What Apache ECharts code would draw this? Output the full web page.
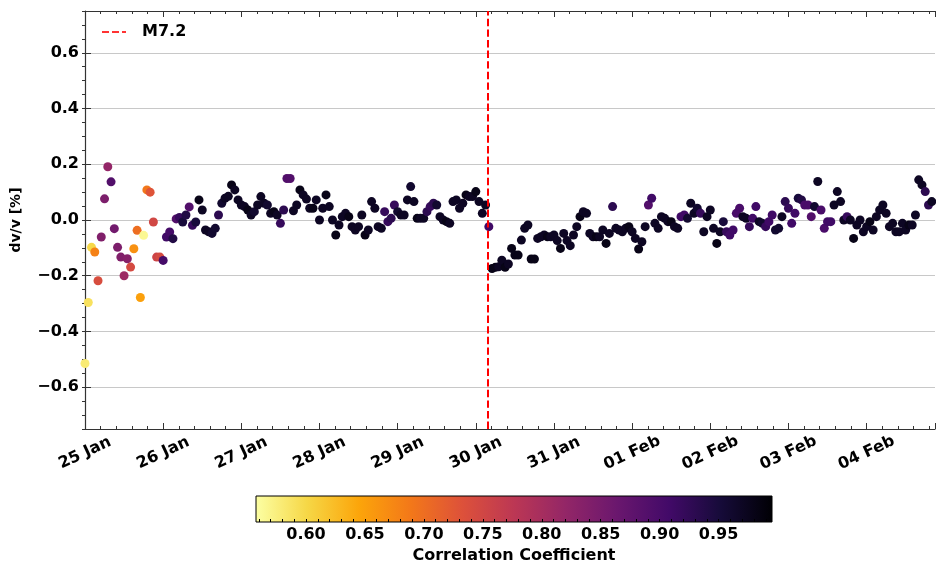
<!DOCTYPE html>
<html><head><meta charset="utf-8">
<script src="https://cdn.jsdelivr.net/npm/echarts@6/dist/echarts.min.js"></script>
<style>html,body{margin:0;padding:0;background:#fff}#c{width:936px;height:564px}</style>
</head><body><div id="c"></div>
<script>
// x tick labels (one per day, starting 25 Jan 00:00)
const dayLabels = ['25 Jan','26 Jan','27 Jan','28 Jan','29 Jan','30 Jan','31 Jan','01 Feb','02 Feb','03 Feb','04 Feb'];
const sampleStepHours = 1;      // hourly dv/v estimates
const xMaxDays = 10.875;
const quakeDay = 5.154;         // M7.2 origin time (days after 25 Jan 00:00)
const quakeName = 'M7.2';

// dv/v [%] per hourly sample
const dvv = [
 -0.515,-0.296,-0.098,-0.115,-0.218,-0.061,0.076,0.191,0.137,-0.031,
 -0.098,-0.133,-0.200,-0.139,-0.169,-0.103,-0.037,-0.278,-0.055,0.108,
 0.100,-0.007,-0.133,-0.133,-0.145,-0.061,-0.043,-0.067,0.004,0.009,
 -0.007,0.018,0.047,-0.019,-0.007,0.072,0.036,-0.036,-0.042,-0.048,
 -0.030,0.018,0.060,0.078,0.085,0.126,0.108,0.072,0.054,0.048,
 0.036,0.018,0.030,0.054,0.084,0.060,0.054,0.024,0.030,0.018,
 -0.012,0.036,0.149,0.149,0.033,0.054,0.108,0.090,0.075,0.042,
 0.042,0.072,0.000,0.042,0.090,0.048,0.000,-0.054,-0.018,0.012,
 0.024,0.012,-0.024,-0.036,-0.024,0.018,-0.054,-0.036,0.066,0.042,
 -0.024,-0.030,0.030,-0.006,0.006,0.054,0.030,0.018,0.018,0.072,
 0.120,0.066,0.006,0.006,0.006,0.030,0.048,0.060,0.054,0.012,
 0.000,-0.006,-0.012,0.066,0.072,0.042,0.060,0.090,0.084,0.084,
 0.102,0.066,0.024,0.054,-0.024,-0.174,-0.170,-0.168,-0.144,-0.170,
 -0.158,-0.102,-0.126,-0.126,-0.072,-0.030,-0.018,-0.140,-0.140,-0.066,
 -0.060,-0.054,-0.060,-0.060,-0.054,-0.074,-0.102,-0.048,-0.074,-0.092,
 -0.054,-0.024,0.012,0.030,0.024,-0.048,-0.060,-0.060,-0.060,-0.036,
 -0.084,-0.048,0.048,-0.030,-0.036,-0.042,-0.030,-0.024,-0.042,-0.066,
 -0.104,-0.078,-0.024,0.054,0.078,-0.012,-0.030,0.012,0.006,-0.006,
 -0.006,-0.024,-0.030,0.012,0.018,0.006,0.060,0.024,0.042,0.024,
 -0.042,0.012,0.036,-0.030,-0.084,-0.042,-0.006,-0.042,-0.054,-0.036,
 0.024,0.042,0.012,0.006,-0.024,0.006,0.048,-0.006,-0.012,-0.024,
 -0.006,0.018,-0.036,-0.030,0.012,0.066,0.042,-0.012,0.024,0.078,
 0.072,0.054,0.054,0.012,0.048,0.138,0.036,-0.030,-0.006,-0.006,
 0.054,0.102,0.066,0.000,0.012,0.000,-0.066,-0.018,0.000,-0.042,
 -0.024,-0.006,-0.036,0.012,0.036,0.054,0.024,-0.024,-0.012,-0.042,
 -0.042,-0.012,-0.036,-0.018,-0.018,0.018,0.144,0.126,0.102,0.054,
 0.066
];

// correlation coefficient per hourly sample
const corr = [
 0.58,0.59,0.60,0.68,0.74,0.84,0.845,0.82,0.89,0.855,
 0.845,0.84,0.81,0.835,0.745,0.665,0.70,0.65,0.565,0.69,
 0.73,0.75,0.755,0.745,0.905,0.91,0.905,0.94,0.89,0.92,
 0.95,0.94,0.89,0.92,0.95,0.98,0.97,0.97,0.97,0.96,
 0.96,0.93,0.96,0.97,0.97,0.98,0.97,0.97,0.97,0.97,
 0.98,0.97,0.96,0.97,0.97,0.97,0.96,0.97,0.98,0.97,
 0.92,0.93,0.89,0.89,0.97,0.97,0.98,0.97,0.97,0.97,
 0.98,0.97,0.97,0.97,0.98,0.97,0.97,0.98,0.97,0.97,
 0.97,0.98,0.97,0.97,0.97,0.97,0.98,0.97,0.97,0.97,
 0.97,0.97,0.92,0.92,0.93,0.92,0.96,0.97,0.97,0.97,
 0.96,0.97,0.98,0.97,0.97,0.93,0.92,0.93,0.96,0.97,
 0.97,0.98,0.97,0.97,0.97,0.97,0.97,0.98,0.97,0.97,
 0.98,0.97,0.97,0.97,0.91,0.98,0.98,0.97,0.97,0.98,
 0.97,0.98,0.98,0.98,0.97,0.97,0.97,0.98,0.98,0.97,
 0.97,0.97,0.98,0.97,0.97,0.97,0.98,0.97,0.97,0.97,
 0.97,0.97,0.98,0.97,0.97,0.97,0.97,0.98,0.97,0.97,
 0.98,0.97,0.93,0.97,0.97,0.97,0.97,0.98,0.97,0.97,
 0.98,0.97,0.97,0.89,0.91,0.97,0.97,0.97,0.97,0.97,
 0.98,0.97,0.97,0.91,0.91,0.96,0.97,0.97,0.96,0.92,
 0.97,0.97,0.97,0.97,0.98,0.97,0.95,0.92,0.91,0.91,
 0.90,0.90,0.97,0.97,0.92,0.91,0.91,0.97,0.96,0.92,
 0.91,0.91,0.96,0.96,0.97,0.93,0.92,0.91,0.91,0.95,
 0.94,0.90,0.90,0.89,0.96,0.97,0.90,0.90,0.91,0.91,
 0.97,0.97,0.97,0.97,0.92,0.97,0.98,0.97,0.97,0.97,
 0.97,0.98,0.97,0.97,0.97,0.97,0.97,0.97,0.97,0.97,
 0.97,0.97,0.97,0.98,0.97,0.97,0.97,0.97,0.93,0.93,
 0.97
];

const yTickValues = [-0.6,-0.4,-0.2,0,0.2,0.4,0.6];
const cbLabelValues = [0.60,0.65,0.70,0.75,0.80,0.85,0.90,0.95];
const cbMinorValues = [0.56,0.57,0.58,0.59,0.60,0.61,0.62,0.63,0.64,0.65,0.66,0.67,0.68,0.69,0.70,0.71,0.72,0.73,0.74,0.75,0.76,0.77,0.78,0.79,0.80,0.81,0.82,0.83,0.84,0.85,0.86,0.87,0.88,0.89,0.90,0.91,0.92,0.93,0.94,0.95,0.96,0.97,0.98,0.99];
const corrMin = 0.5576, corrMax = 0.9953;
// matplotlib "inferno" colormap stops (dark -> light)
const inferno = ['#000004','#160b39','#420a68','#6a176e','#932667','#bc3754','#dd513a','#f37819','#fca50a','#f6d746','#fcffa4'];
const infernoR = inferno.slice().reverse();

const FONT = 'DejaVu Sans';
const axisCol = '#333';
// dashed-line legend glyph ("--")
const dashIcon = 'path://M0,0H7V2H0Z M10,0H17V2H10Z M20,0H24V2H20Z';

const points = dvv.map((v, i) => [i * sampleStepHours / 24, v, corr[i]]);

const chart = echarts.init(document.getElementById('c'), null, {renderer: 'canvas'});
const fmtY = v => (v < 0 ? '\u2212' : '') + Math.abs(v).toFixed(1);

chart.setOption({
  animation: false,
  backgroundColor: '#fff',
  textStyle: {fontFamily: FONT},
  legend: {
    data: [{name: quakeName, icon: dashIcon}],
    left: 102, top: 24,
    itemWidth: 24, itemHeight: 2, padding: 0, symbolKeepAspect: false,
    itemStyle: {color: '#ff0000'},
    textStyle: {fontFamily: FONT, fontSize: 16, fontWeight: 'bold', color: '#000', padding: [0, 0, 0, 11]}
  },
  grid: [
    {left: 85, right: 1, top: 11, bottom: 135, outerBoundsMode: 'none'},
    {left: 256, width: 516, top: 496, height: 26, outerBoundsMode: 'none', show: true,
     borderColor: '#000', borderWidth: 1,
     backgroundColor: {type: 'linear', x: 0, y: 0, x2: 1, y2: 0,
       colorStops: infernoR.map((c, i) => ({offset: i / (infernoR.length - 1), color: c}))}}
  ],
  xAxis: [
    {type: 'value', gridIndex: 0, position: 'bottom', min: 0, max: xMaxDays, interval: 1,
     axisLine: {show: true, onZero: false, lineStyle: {color: axisCol, width: 1.2}},
     axisTick: {show: true, inside: true, length: 6, lineStyle: {color: axisCol, width: 1}},
     minorTick: {show: true, splitNumber: 5, length: 3, lineStyle: {color: axisCol, width: 1}},
     splitLine: {show: false},
     axisLabel: {customValues: dayLabels.map((d, i) => i), formatter: v => dayLabels[Math.round(v)],
       rotate: 25, align: 'center', verticalAlign: 'middle', margin: 24,
       fontFamily: FONT, fontSize: 16, fontWeight: 'bold', color: '#000'}},
    {type: 'value', gridIndex: 0, position: 'top', min: 0, max: xMaxDays, interval: 1,
     axisLine: {show: true, onZero: false, lineStyle: {color: axisCol, width: 1.2}},
     axisTick: {show: true, inside: true, length: 6, lineStyle: {color: axisCol, width: 1}},
     minorTick: {show: true, splitNumber: 5, length: 3, lineStyle: {color: axisCol, width: 1}},
     splitLine: {show: false}, axisLabel: {show: false}},
    {type: 'value', gridIndex: 1, position: 'bottom', min: corrMin, max: corrMax,
     axisLine: {show: false},
     axisTick: {show: true, inside: true, length: 3, customValues: cbMinorValues, lineStyle: {color: '#000', width: 1}},
     splitLine: {show: false},
     axisLabel: {customValues: cbLabelValues, formatter: v => v.toFixed(2), margin: 5,
       fontFamily: FONT, fontSize: 16, fontWeight: 'bold', color: '#000'},
     name: 'Correlation Coefficient', nameLocation: 'middle', nameGap: 26,
     nameTextStyle: {fontFamily: FONT, fontSize: 16, fontWeight: 'bold', color: '#000'}}
  ],
  yAxis: [
    {type: 'value', gridIndex: 0, min: -0.75, max: 0.75,
     axisLine: {show: true, onZero: false, lineStyle: {color: axisCol, width: 1.2}},
     axisTick: {show: true, inside: true, length: 6, customValues: yTickValues, lineStyle: {color: axisCol, width: 1}},
     splitLine: {show: true, lineStyle: {color: '#c8c8c8', width: 1}},
     axisLabel: {customValues: yTickValues, formatter: fmtY, margin: 6,
       fontFamily: FONT, fontSize: 16, fontWeight: 'bold', color: '#000'},
     name: 'dv/v [%]', nameLocation: 'middle', nameRotate: 90, nameGap: 62,
     nameTextStyle: {fontFamily: FONT, fontSize: 14, fontWeight: 'bold', color: '#000'}},
    {type: 'value', gridIndex: 0, min: -0.75, max: 0.75, interval: 0.05,
     axisLine: {show: false}, axisLabel: {show: false}, splitLine: {show: false},
     axisTick: {show: true, inside: true, length: 3, lineStyle: {color: axisCol, width: 1}}},
    {type: 'value', gridIndex: 1, show: false, min: 0, max: 1}
  ],
  visualMap: {type: 'continuous', show: false, seriesIndex: 0, dimension: 2,
    min: corrMin, max: corrMax, inRange: {color: infernoR}},
  series: [
    {type: 'scatter', xAxisIndex: 0, yAxisIndex: 0, data: points, symbolSize: 9,
     itemStyle: {opacity: 1}, z: 3, silent: true},
    {type: 'scatter', name: quakeName, xAxisIndex: 0, yAxisIndex: 0, data: [],
     itemStyle: {color: '#ff0000'}, z: 4,
     markLine: {silent: true, symbol: ['none', 'none'], label: {show: false},
       lineStyle: {color: '#ff0000', type: [7.4, 3.2], width: 2},
       data: [{xAxis: quakeDay}]}}
  ]
});
</script></body></html>
